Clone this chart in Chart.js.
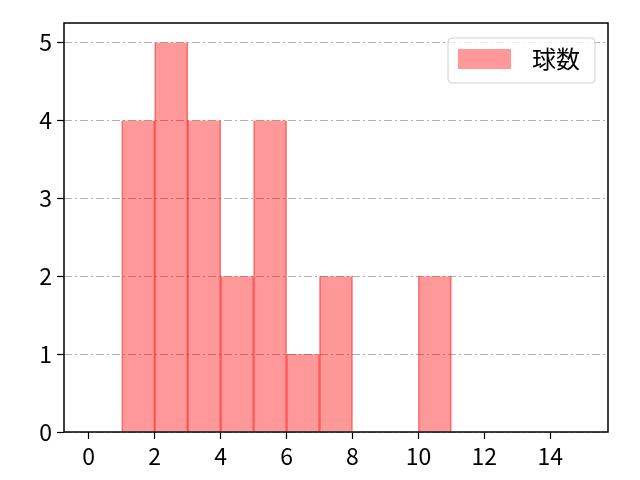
<!DOCTYPE html>
<html>
<head>
<meta charset="utf-8">
<script src="https://cdn.jsdelivr.net/npm/chart.js@4/dist/chart.umd.min.js"></script>
<style>
  html, body { margin: 0; padding: 0; background: #fff; }
  #wrap { width: 640px; height: 480px; }
</style>
</head>
<body>
<div id="wrap"><canvas id="hist" width="640" height="480"></canvas></div>
<script>
// histogram bins (left edges, width 1) and counts
const binStarts = [1, 2, 3, 4, 5, 6, 7, 8, 9, 10];
const counts = [4, 5, 4, 2, 4, 1, 2, 0, 0, 2];
const xTicks = [0, 2, 4, 6, 8, 10, 12, 14];
const yTicks = [0, 1, 2, 3, 4, 5];
const seriesLabel = "球数";

const FONT = "'Noto Sans CJK JP', 'Noto Sans', sans-serif";
const barFill = "rgba(255, 0, 0, 0.4)";
const barEdge = "rgba(255, 0, 0, 0.55)";

// frame + legend box like matplotlib
const framePlugin = {
  id: "frame",
  afterDraw(chart) {
    const { ctx, chartArea: a } = chart;
    ctx.save();
    ctx.strokeStyle = "#000";
    ctx.lineWidth = 1.5;
    ctx.strokeRect(a.left, a.top, a.right - a.left, a.bottom - a.top);

    // legend
    const bx = 448, by = 38, bw = 147, bh = 45;
    ctx.beginPath();
    ctx.roundRect(bx, by, bw, bh, 4);
    ctx.fillStyle = "rgba(255,255,255,0.8)";
    ctx.fill();
    ctx.strokeStyle = "#d0d0d0";
    ctx.lineWidth = 1;
    ctx.stroke();

    ctx.fillStyle = barFill;
    ctx.fillRect(458, 49, 53, 20);

    ctx.fillStyle = "#000";
    ctx.font = "24px " + FONT;
    ctx.textBaseline = "middle";
    ctx.textAlign = "left";
    ctx.fillText(seriesLabel, 532, 59);
    ctx.restore();
  }
};

new Chart(document.getElementById("hist"), {
  type: "bar",
  data: {
    datasets: [{
      label: seriesLabel,
      data: binStarts.map((s, i) => ({ x: s + 0.5, y: counts[i] === 0 ? null : counts[i] })),
      backgroundColor: barFill,
      borderColor: barEdge,
      borderWidth: { left: 0.7, right: 0.7, top: 0, bottom: 0 },
      borderSkipped: false,
      barPercentage: 1,
      categoryPercentage: 1,
      grouped: false
    }]
  },
  options: {
    responsive: false,
    devicePixelRatio: 1,
    animation: false,
    layout: { padding: { top: 23, right: 32, left: 0, bottom: 0 } },
    plugins: { legend: { display: false }, tooltip: { enabled: false } },
    scales: {
      x: {
        type: "linear",
        offset: false,
        min: -0.75,
        max: 15.75,
        afterBuildTicks: s => { s.ticks = xTicks.map(v => ({ value: v })); },
        afterFit: s => { s.height = 48; },
        grid: { offset: false, drawOnChartArea: false, drawTicks: true, tickLength: 7, tickColor: "#000", tickWidth: 1.2 },
        border: { display: false },
        ticks: { color: "#000", font: { family: FONT, size: 23 }, padding: 3, maxRotation: 0, autoSkip: false }
      },
      y: {
        min: 0,
        max: 5.25,
        afterBuildTicks: s => { s.ticks = yTicks.map(v => ({ value: v })); },
        afterFit: s => { s.width = 64; },
        grid: { color: "#b0b0b0", lineWidth: 1, drawTicks: true, tickLength: 7, tickColor: "#000", tickWidth: 1.2, tickBorderDash: [] },
        border: { display: false, dash: [8, 3, 2, 3] },
        ticks: { color: "#000", font: { family: FONT, size: 23 }, padding: 5 }
      }
    }
  },
  plugins: [framePlugin]
});
</script>
</body>
</html>
